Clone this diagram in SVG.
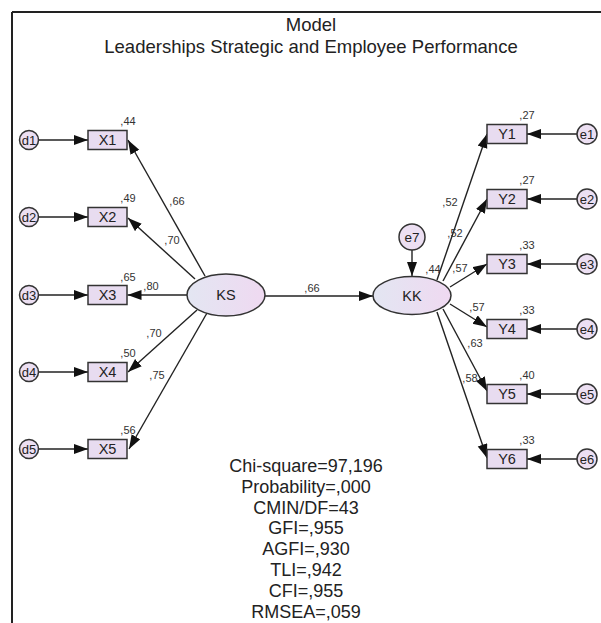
<svg xmlns="http://www.w3.org/2000/svg" width="601" height="623" viewBox="0 0 601 623">
<style>
  text { font-family: "Liberation Sans", Arial, sans-serif; fill: #222; }
  .title { font-size: 18.5px; text-anchor: middle; }
  .stat { font-size: 18px; text-anchor: middle; }
  .lbl { font-size: 14.5px; text-anchor: middle; }
  .sm { font-size: 11px; text-anchor: middle; fill: #333; }
  .el { font-size: 13px; text-anchor: middle; fill: #222; }
  .box { fill: #e8dcf0; stroke: #333; stroke-width: 1.5; }
  .err { fill: #ecdff2; stroke: #333; stroke-width: 1.5; }
  .lat { fill: url(#latg); stroke: #333; stroke-width: 1.5; }
  .con line { stroke: #222; stroke-width: 1.4; marker-end: url(#ah); }
</style>
<defs>
  <linearGradient id="latg" x1="0" y1="0" x2="1" y2="0">
    <stop offset="0" stop-color="#e3e6f2"/>
    <stop offset="1" stop-color="#efd9f1"/>
  </linearGradient>
  <marker id="ah" markerUnits="userSpaceOnUse" markerWidth="15" markerHeight="11" refX="14" refY="5" orient="auto">
    <path d="M0,0 L14,5 L0,10 z" fill="#111"/>
  </marker>
</defs>
<rect x="0" y="0" width="601" height="623" fill="#fff"/>
<g id="frame" stroke="#222" stroke-width="2">
  <line x1="12" y1="12" x2="601" y2="12"/>
  <line x1="12" y1="12" x2="12" y2="623"/>
</g>
<g id="title">
  <text class="title" x="311" y="31">Model</text>
  <text class="title" x="311" y="53">Leaderships Strategic and Employee Performance</text>
</g>

<g id="connectors" class="con">
  <line x1="38.5" y1="140" x2="88" y2="140"/>
  <line x1="38.5" y1="217" x2="88" y2="217"/>
  <line x1="38.5" y1="295" x2="88" y2="295"/>
  <line x1="38.5" y1="372" x2="88" y2="372"/>
  <line x1="38.5" y1="449" x2="88" y2="449"/>
  <line x1="205" y1="276" x2="128" y2="140"/>
  <line x1="195" y1="279" x2="128" y2="218"/>
  <line x1="187" y1="295" x2="127.5" y2="295"/>
  <line x1="197" y1="310" x2="128" y2="372"/>
  <line x1="207" y1="313" x2="129" y2="449"/>
  <line x1="265" y1="296" x2="373" y2="296"/>
  <line x1="412" y1="250" x2="412" y2="276"/>
  <line x1="437" y1="280" x2="487" y2="134"/>
  <line x1="443" y1="281" x2="487" y2="199"/>
  <line x1="450" y1="287" x2="487" y2="264"/>
  <line x1="450" y1="304" x2="487" y2="327"/>
  <line x1="443" y1="309" x2="487" y2="391"/>
  <line x1="437" y1="312" x2="487" y2="458"/>
  <line x1="577" y1="134" x2="527" y2="134"/>
  <line x1="577" y1="199" x2="527" y2="199"/>
  <line x1="577" y1="264" x2="527" y2="264"/>
  <line x1="577" y1="329" x2="527" y2="329"/>
  <line x1="577" y1="394" x2="527" y2="394"/>
  <line x1="577" y1="459" x2="527" y2="459"/>
</g>

<g id="coef">
  <text class="sm" x="177" y="205">,66</text>
  <text class="sm" x="172" y="244">,70</text>
  <text class="sm" x="151" y="290">,80</text>
  <text class="sm" x="154" y="337">,70</text>
  <text class="sm" x="157" y="379">,75</text>
  <text class="sm" x="312" y="292">,66</text>
  <text class="sm" x="433" y="273">,44</text>
  <text class="sm" x="450" y="206">,52</text>
  <text class="sm" x="455" y="237">,52</text>
  <text class="sm" x="460" y="272">,57</text>
  <text class="sm" x="477" y="311">,57</text>
  <text class="sm" x="475" y="347">,63</text>
  <text class="sm" x="470" y="382">,58</text>
</g>

<g id="d1"><circle class="err" cx="29" cy="140" r="9.5"/><text class="el" x="29" y="144.5">d1</text></g>
<g id="d2"><circle class="err" cx="29" cy="217" r="9.5"/><text class="el" x="29" y="221.5">d2</text></g>
<g id="d3"><circle class="err" cx="29" cy="295" r="9.5"/><text class="el" x="29" y="299.5">d3</text></g>
<g id="d4"><circle class="err" cx="29" cy="372" r="9.5"/><text class="el" x="29" y="376.5">d4</text></g>
<g id="d5"><circle class="err" cx="29" cy="449" r="9.5"/><text class="el" x="29" y="453.5">d5</text></g>

<g id="X1"><rect class="box" x="88" y="130.5" width="39" height="19"/><text class="lbl" x="107.5" y="145">X1</text><text class="sm" x="128" y="125">,44</text></g>
<g id="X2"><rect class="box" x="88" y="207.5" width="39" height="19"/><text class="lbl" x="107.5" y="222">X2</text><text class="sm" x="128" y="202">,49</text></g>
<g id="X3"><rect class="box" x="88" y="285.5" width="39" height="19"/><text class="lbl" x="107.5" y="300">X3</text><text class="sm" x="128" y="281">,65</text></g>
<g id="X4"><rect class="box" x="88" y="362.5" width="39" height="19"/><text class="lbl" x="107.5" y="377">X4</text><text class="sm" x="128" y="357">,50</text></g>
<g id="X5"><rect class="box" x="88" y="439.5" width="39" height="19"/><text class="lbl" x="107.5" y="454">X5</text><text class="sm" x="128" y="434">,56</text></g>

<g id="KS"><ellipse class="lat" cx="226" cy="295" rx="39" ry="21"/><text class="lbl" x="226" y="300">KS</text></g>
<g id="KK"><ellipse class="lat" cx="412" cy="295.5" rx="39" ry="19"/><text class="lbl" x="412" y="300.5">KK</text></g>
<g id="e7"><circle class="err" cx="412" cy="237" r="13"/><text class="lbl" x="412" y="242" style="font-size:13.5px">e7</text></g>

<g id="Y1"><rect class="box" x="487" y="124.5" width="40" height="19"/><text class="lbl" x="507" y="139">Y1</text><text class="sm" x="527" y="119">,27</text></g>
<g id="Y2"><rect class="box" x="487" y="189.5" width="40" height="19"/><text class="lbl" x="507" y="204">Y2</text><text class="sm" x="527" y="184">,27</text></g>
<g id="Y3"><rect class="box" x="487" y="254.5" width="40" height="19"/><text class="lbl" x="507" y="269">Y3</text><text class="sm" x="527" y="249">,33</text></g>
<g id="Y4"><rect class="box" x="487" y="319.5" width="40" height="19"/><text class="lbl" x="507" y="334">Y4</text><text class="sm" x="527" y="314">,33</text></g>
<g id="Y5"><rect class="box" x="487" y="384.5" width="40" height="19"/><text class="lbl" x="507" y="399">Y5</text><text class="sm" x="527" y="379">,40</text></g>
<g id="Y6"><rect class="box" x="487" y="449.5" width="40" height="19"/><text class="lbl" x="507" y="464">Y6</text><text class="sm" x="527" y="444">,33</text></g>

<g id="e1"><circle class="err" cx="587" cy="134" r="10"/><text class="el" x="587" y="138.5">e1</text></g>
<g id="e2"><circle class="err" cx="587" cy="199" r="10"/><text class="el" x="587" y="203.5">e2</text></g>
<g id="e3"><circle class="err" cx="587" cy="264" r="10"/><text class="el" x="587" y="268.5">e3</text></g>
<g id="e4"><circle class="err" cx="587" cy="329" r="10"/><text class="el" x="587" y="333.5">e4</text></g>
<g id="e5"><circle class="err" cx="587" cy="394" r="10"/><text class="el" x="587" y="398.5">e5</text></g>
<g id="e6"><circle class="err" cx="587" cy="459" r="10"/><text class="el" x="587" y="463.5">e6</text></g>

<g id="stats">
  <text class="stat" x="306" y="472">Chi-square=97,196</text>
  <text class="stat" x="306" y="493">Probability=,000</text>
  <text class="stat" x="306" y="514">CMIN/DF=43</text>
  <text class="stat" x="306" y="534">GFI=,955</text>
  <text class="stat" x="306" y="555">AGFI=,930</text>
  <text class="stat" x="306" y="576">TLI=,942</text>
  <text class="stat" x="306" y="597">CFI=,955</text>
  <text class="stat" x="306" y="618">RMSEA=,059</text>
</g>
</svg>
